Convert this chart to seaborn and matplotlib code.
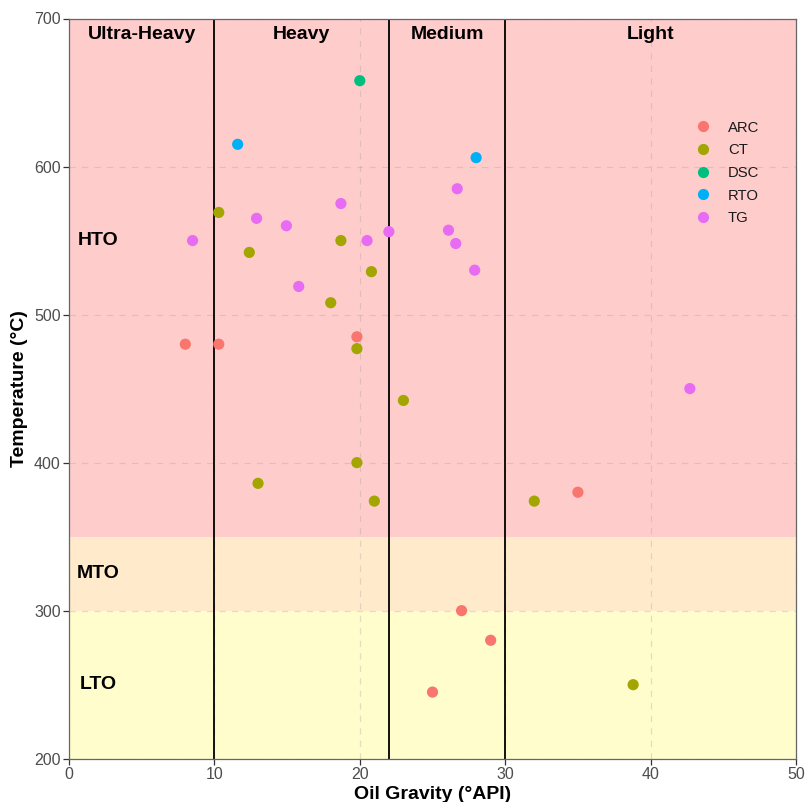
import matplotlib
matplotlib.use("Agg")
import matplotlib.pyplot as plt
import seaborn as sns
import pandas as pd

# ---- data ----
arc_x = [8.0, 10.3, 19.8, 35.0, 27.0, 29.0, 25.0]
arc_y = [480, 480, 485, 380, 300, 280, 245]
ct_x = [10.3, 12.4, 18.7, 20.8, 18.0, 19.8, 23.0, 13.0, 19.8, 21.0, 32.0, 38.8]
ct_y = [569, 542, 550, 529, 508, 477, 442, 386, 400, 374, 374, 250]
dsc_x = [20.0]
dsc_y = [658]
rto_x = [11.6, 28.0]
rto_y = [615, 606]
tg_x = [8.5, 12.9, 14.95, 18.7, 20.5, 22.0, 15.8, 26.7, 26.1, 26.6, 27.9, 42.7]
tg_y = [550, 565, 560, 575, 550, 556, 519, 585, 557, 548, 530, 450]

methods = ["ARC", "CT", "DSC", "RTO", "TG"]
palette = {"ARC": "#F8766D", "CT": "#A3A500", "DSC": "#00BF7D",
           "RTO": "#00B0F6", "TG": "#E76BF3"}

# band definitions
temp_bands = [(350, 700, "#FFCCCC", "HTO", 550),
              (300, 350, "#FFEBCC", "MTO", 325),
              (200, 300, "#FFFDCC", "LTO", 250)]
gravity_bounds = [10, 22, 30]
gravity_classes = ["Ultra-Heavy", "Heavy", "Medium", "Light"]
gravity_centers = [5, 16, 26, 40]

rows = []
for m, xs, ys in [("ARC", arc_x, arc_y), ("CT", ct_x, ct_y), ("DSC", dsc_x, dsc_y),
                  ("RTO", rto_x, rto_y), ("TG", tg_x, tg_y)]:
    for a, b in zip(xs, ys):
        rows.append({"Gravity": a, "Temp": b, "Method": m})
df = pd.DataFrame(rows)

sns.set_style("white")
plt.rcParams["font.family"] = ["Liberation Sans", "DejaVu Sans"]

fig = plt.figure(figsize=(8.05, 8.02), dpi=100)
ax = fig.add_axes([69 / 805, 1 - 758.7 / 802, (796 - 69) / 805, (758.7 - 18.5) / 802])

for lo, hi, col, lab, ly in temp_bands:
    ax.axhspan(lo, hi, color=col, zorder=0, lw=0)
    ax.text(2, ly, lab, ha="center", va="center", fontsize=14, fontweight="bold",
            color="black", zorder=5)

ax.set_xlim(0, 50)
ax.set_ylim(200, 700)
ax.set_xticks([0, 10, 20, 30, 40, 50])
ax.set_yticks([200, 300, 400, 500, 600, 700])
ax.grid(True, color="#999999", alpha=0.3, linestyle=(0, (5, 5)), linewidth=0.9, zorder=1)
ax.set_axisbelow(True)

for gx in gravity_bounds:
    ax.axvline(gx, color="black", lw=1.3, zorder=2)

for name, cx in zip(gravity_classes, gravity_centers):
    ax.text(cx, 689.5, name, ha="center", va="center", fontsize=14, fontweight="bold",
            color="black", zorder=5)

sns.scatterplot(data=df, x="Gravity", y="Temp", hue="Method", hue_order=methods,
                palette=palette, s=65, edgecolor="none", linewidth=0, ax=ax, zorder=4)

leg = ax.legend(loc="upper left", bbox_to_anchor=(0.843, 0.870), frameon=False,
                fontsize=10.7, handlelength=2, handletextpad=0.7, labelspacing=0.58,
                borderaxespad=0, markerscale=1.0)
for h in leg.legend_handles:
    if hasattr(h, "set_sizes"):
        h.set_sizes([65])
for t in leg.get_texts():
    t.set_color("#1A1A1A")

ax.set_xlabel("Oil Gravity (°API)", fontsize=14, fontweight="bold", labelpad=3, color="black")
ax.set_ylabel("Temperature (°C)", fontsize=14, fontweight="bold", labelpad=4, color="black")

for s in ax.spines.values():
    s.set_visible(True)
    s.set_color("#666666")
    s.set_linewidth(0.9)
ax.tick_params(axis="both", which="major", length=4, width=0.9, color="#333333",
               labelcolor="#4D4D4D", labelsize=11.5, pad=2, direction="out")
ax.tick_params(bottom=True, left=True)

fig.savefig("out.png", dpi=100)
